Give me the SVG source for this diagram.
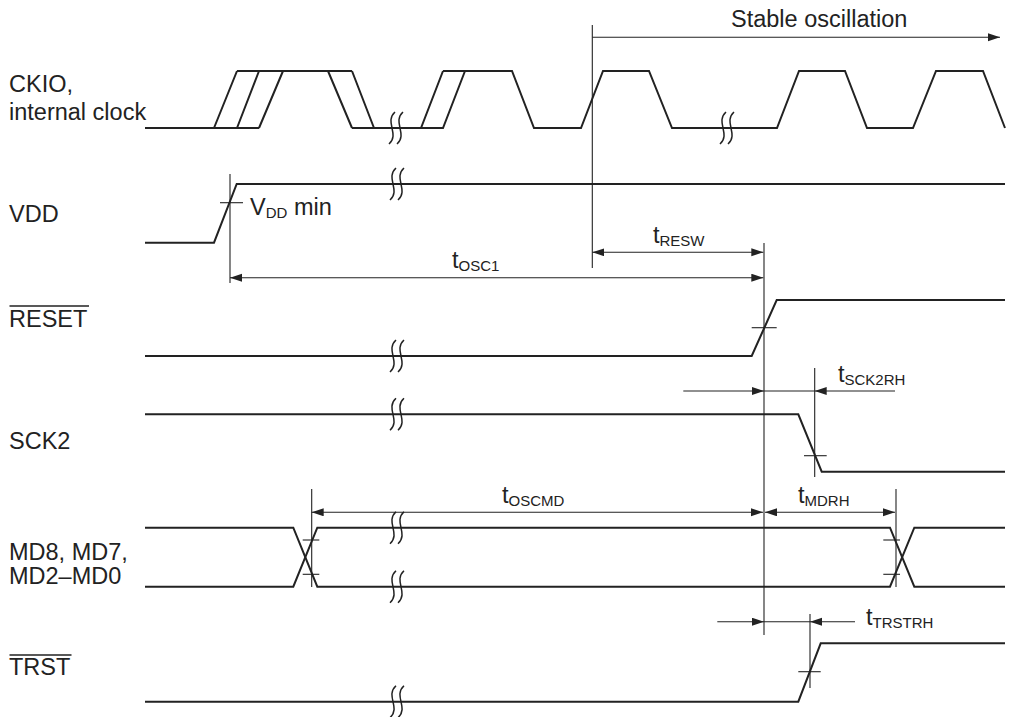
<svg xmlns="http://www.w3.org/2000/svg" width="1013" height="717" viewBox="0 0 1013 717">
<style>
.sig{fill:none;stroke:#222;stroke-width:2;stroke-linejoin:miter}
.thin{fill:none;stroke:#222;stroke-width:1.1}
.brk{fill:none;stroke:#222;stroke-width:1.5}
text{font-family:"Liberation Sans",Arial,sans-serif;font-size:23.5px;fill:#222}
.sub{font-size:15px}
</style>
<defs>
<marker id="ah" markerUnits="userSpaceOnUse" markerWidth="13" markerHeight="9" refX="12" refY="4" orient="auto-start-reverse">
<path d="M0,0 L12,4 L0,8 z" fill="#222"/>
</marker>
<g id="brkSym"><path class="brk" d="M3,-16 C-8,-6 8,6 -3,16"/><path class="brk" d="M11,-16 C0,-6 16,6 5,16"/></g>
</defs>
<rect width="1013" height="717" fill="#fff"/>

<g id="labels">
<text x="9" y="92">CKIO,</text>
<text x="9" y="120">internal clock</text>
<text x="9" y="222">VDD</text>
<text x="9" y="327">RESET</text>
<line x1="9.5" y1="306" x2="89" y2="306" stroke="#222" stroke-width="1.4"/>
<text x="9" y="449">SCK2</text>
<text x="9" y="560">MD8, MD7,</text>
<text x="9" y="584">MD2–MD0</text>
<text x="9" y="675">TRST</text>
<line x1="9.5" y1="655" x2="71.5" y2="655" stroke="#222" stroke-width="1.4"/>
</g>

<g id="ckio">
<path class="sig" d="M145,128 H259 M214,128 L237,71 M237,128 L259,71 M259,128 L283,71 M237,71 H352 M328,71 L352,128 M352,71 L374,128 M352,128 H421 L443,71 M421,128 H443 L465,71 M443,71 H512 L534,128 H581 L603,71 H649 L672,128 H777 L799,71 H845 L867,128 H913 L936,71 H983 L1005,128"/>
<use href="#brkSym" x="392" y="128"/>
<use href="#brkSym" x="723" y="128"/>
</g>

<g id="vdd">
<path class="sig" d="M145,242.7 H214 L236.7,184 H1005"/>
<use href="#brkSym" x="393" y="184"/>
<line class="thin" x1="220" y1="202.7" x2="243" y2="202.7"/>
<text x="250" y="215">V<tspan class="sub" dy="3">DD</tspan><tspan dy="-3"> min</tspan></text>
</g>

<g id="reset">
<path class="sig" d="M145,356 H751.7 L776.7,300 H1005"/>
<use href="#brkSym" x="393" y="356"/>
<line class="thin" x1="751.7" y1="327.7" x2="776.7" y2="327.7"/>
</g>

<g id="sck2">
<path class="sig" d="M145,414.3 H798.3 L821.7,471.7 H1005"/>
<use href="#brkSym" x="393" y="414.3"/>
<line class="thin" x1="804" y1="455.7" x2="826.7" y2="455.7"/>
</g>

<g id="md">
<path class="sig" d="M145,527.7 H293.3 L317.3,586.7 H890 L914.3,527.7 H1005"/>
<path class="sig" d="M145,586.7 H293.3 L317.3,527.7 H890 L914.3,586.7 H1005"/>
<use href="#brkSym" x="393" y="527.7"/>
<use href="#brkSym" x="393" y="586.7"/>
<line class="thin" x1="302.7" y1="540" x2="319.3" y2="540"/>
<line class="thin" x1="302.7" y1="574.3" x2="319.3" y2="574.3"/>
<line class="thin" x1="883.3" y1="540" x2="900" y2="540"/>
<line class="thin" x1="883.3" y1="574.3" x2="900" y2="574.3"/>
</g>

<g id="trst">
<path class="sig" d="M145,701.7 H798.3 L820.7,643.3 H1005"/>
<use href="#brkSym" x="393" y="701.7"/>
<line class="thin" x1="798.3" y1="671.7" x2="820.7" y2="671.7"/>
</g>

<g id="connectors">
<line class="thin" x1="592.3" y1="25" x2="592.3" y2="268"/>
<line class="thin" x1="230" y1="174" x2="230" y2="283"/>
<line class="thin" x1="764" y1="243" x2="764" y2="635"/>
<line class="thin" x1="814.7" y1="368" x2="814.7" y2="477"/>
<line class="thin" x1="311.7" y1="489" x2="311.7" y2="587"/>
<line class="thin" x1="896" y1="489" x2="896" y2="587"/>
<line class="thin" x1="810" y1="614" x2="810" y2="688"/>

<path class="thin" d="M592.3,37.3 H1000" marker-end="url(#ah)"/>
<path class="thin" d="M592.3,252.3 H763.3" marker-start="url(#ah)" marker-end="url(#ah)"/>
<path class="thin" d="M230,277.7 H763.3" marker-start="url(#ah)" marker-end="url(#ah)"/>
<path class="thin" d="M683.3,391 H764" marker-end="url(#ah)"/>
<path class="thin" d="M764,391 H814.7"/>
<path class="thin" d="M895,391 H814.7" marker-end="url(#ah)"/>
<path class="thin" d="M311.7,512.3 H763" marker-start="url(#ah)" marker-end="url(#ah)"/>
<path class="thin" d="M765,512.3 H895" marker-start="url(#ah)" marker-end="url(#ah)"/>
<path class="thin" d="M717.3,621.7 H764" marker-end="url(#ah)"/>
<path class="thin" d="M764,621.7 H810"/>
<path class="thin" d="M855,621.7 H810" marker-end="url(#ah)"/>

<text x="731" y="27">Stable oscillation</text>
<text x="653" y="243">t<tspan class="sub" dy="3">RESW</tspan></text>
<text x="452" y="268">t<tspan class="sub" dy="3">OSC1</tspan></text>
<text x="838" y="382">t<tspan class="sub" dy="3">SCK2RH</tspan></text>
<text x="502" y="503">t<tspan class="sub" dy="3">OSCMD</tspan></text>
<text x="798" y="503">t<tspan class="sub" dy="3">MDRH</tspan></text>
<text x="866" y="625">t<tspan class="sub" dy="3">TRSTRH</tspan></text>
</g>
</svg>
